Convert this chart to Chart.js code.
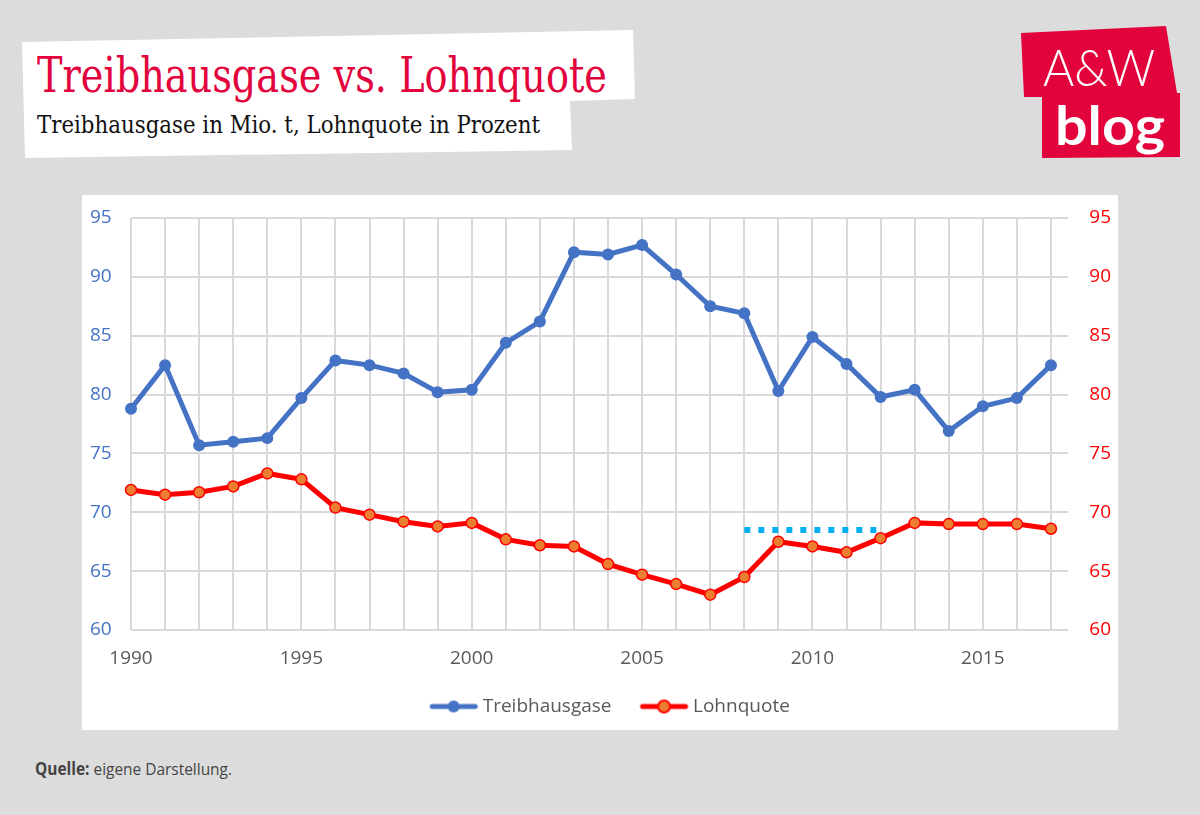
<!DOCTYPE html>
<html>
<head>
<meta charset="utf-8">
<script src="https://cdn.jsdelivr.net/npm/chart.js@4.4.1/dist/chart.umd.min.js"></script>
<style>
  body { margin: 0; background: #dcdcdc; }
  #page { position: relative; width: 1200px; height: 815px; overflow: hidden; background: #dcdcdc; }
  #titlebox { position: absolute; left: 0; top: 0; width: 1200px; height: 815px; background: #fff;
    clip-path: polygon(22px 42px, 633px 30px, 635px 99px, 570px 101px, 572px 150px, 25px 158px); }
  #logo { position: absolute; left: 0; top: 0; width: 1200px; height: 815px; background: #e2033c;
    clip-path: polygon(1021px 33px, 1166px 26px, 1177px 93px, 1180px 93px, 1180px 157px, 1042px 158px, 1042px 97px, 1024px 97px); }
  .txt { position: absolute; white-space: nowrap; line-height: 1; transform-origin: left top; }
  #title { left: 37px; top: 47px; font: 48px "DejaVu Serif", serif; color: #e2033c; }
  #subtitle { left: 37px; top: 111px; font: 24px "DejaVu Serif", serif; color: #111; }
  #aw { left: 1043px; top: 36px; font: 300 51px Lato, sans-serif; color: #fff; }
  #blog { left: 1055px; top: 92px; font: bold 54px Lato, sans-serif; color: #fff; }
  #source { left: 35px; top: 757px; font: 17px "Open Sans", sans-serif; color: #444; }
  #box { position: absolute; left: 82px; top: 195px; width: 1036px; height: 535px; background: #fff; }
</style>
</head>
<body>
<div id="page">
  <div id="titlebox"></div>
  <div class="txt" id="title">Treibhausgase vs. Lohnquote</div>
  <div class="txt" id="subtitle">Treibhausgase in Mio. t, Lohnquote in Prozent</div>
  <div id="logo"></div>
  <div class="txt" id="aw">A&amp;W</div>
  <div class="txt" id="blog">blog</div>
  <div id="box"><canvas id="myChart" width="1036" height="535"></canvas></div>
  <div class="txt" id="source"><b>Quelle:</b> eigene Darstellung.</div>
</div>
<script>
const years = [1990, 1991, 1992, 1993, 1994, 1995, 1996, 1997, 1998, 1999,
  2000, 2001, 2002, 2003, 2004, 2005, 2006, 2007, 2008, 2009,
  2010, 2011, 2012, 2013, 2014, 2015, 2016, 2017]
const treibhausgase = [78.8, 82.5, 75.7, 76.0, 76.3, 79.7, 82.9, 82.5, 81.8, 80.2,
  80.4, 84.4, 86.2, 92.1, 91.9, 92.7, 90.2, 87.5, 86.9, 80.3,
  84.9, 82.6, 79.8, 80.4, 76.9, 79.0, 79.7, 82.5]
const lohnquote = [71.9, 71.5, 71.7, 72.2, 73.3, 72.8, 70.4, 69.8, 69.2, 68.8,
  69.1, 67.7, 67.2, 67.1, 65.6, 64.7, 63.9, 63.0, 64.5, 67.5,
  67.1, 66.6, 67.8, 69.1, 69.0, 69.0, 69.0, 68.6]
// gepunktete Linie 2008-2012
const markerYears = [2008, 2012]
const markerValues = [68.5, 68.5]
const yMin = 60, yMax = 95, yStep = 5

function fitWidth(id, w) {
  const el = document.getElementById(id)
  const r = w / el.getBoundingClientRect().width
  el.style.transform = 'scaleX(' + r + ')'
}
fitWidth('title', 570)
fitWidth('subtitle', 503)
fitWidth('aw', 112)
fitWidth('blog', 110)
fitWidth('source', 197)

// Legendensymbol: Linie mit Punkt
function legendIcon(line, fill, border) {
  const c = document.createElement('canvas')
  c.width = 74
  c.height = 16
  const g = c.getContext('2d')
  g.strokeStyle = line
  g.lineWidth = 5
  g.lineCap = 'round'
  g.beginPath()
  g.moveTo(27, 8)
  g.lineTo(70, 8)
  g.stroke()
  g.beginPath()
  g.arc(48.5, 8, 6, 0, Math.PI * 2)
  g.fillStyle = fill
  g.fill()
  if (border) {
    g.lineWidth = 2
    g.strokeStyle = border
    g.stroke()
  }
  return c
}

const gridColor = '#d9d9d9'
const tickFont = { family: 'Open Sans', size: 19 }
const ctx = document.getElementById('myChart').getContext('2d')

new Chart(ctx, {
  type: 'line',
  data: {
    datasets: [
      {
        label: 'Treibhausgase',
        data: years.map((y, i) => ({ x: y, y: treibhausgase[i] })),
        borderColor: '#4472c4',
        backgroundColor: '#4472c4',
        borderWidth: 5,
        pointRadius: 6,
        pointBackgroundColor: '#4472c4',
        pointBorderWidth: 0,
        yAxisID: 'y',
        clip: false
      },
      {
        label: 'Lohnquote',
        data: years.map((y, i) => ({ x: y, y: lohnquote[i] })),
        borderColor: '#ff0000',
        backgroundColor: '#ed7d31',
        borderWidth: 5,
        pointRadius: 5.5,
        pointBackgroundColor: '#ed7d31',
        pointBorderColor: '#ff0000',
        pointBorderWidth: 1.5,
        yAxisID: 'y1',
        clip: false
      },
      {
        label: 'marker',
        data: markerYears.map((y, i) => ({ x: y, y: markerValues[i] })),
        borderColor: '#00b0f0',
        borderWidth: 6,
        borderDash: [6, 8],
        borderCapStyle: 'butt',
        pointRadius: 0,
        yAxisID: 'y1'
      }
    ]
  },
  options: {
    responsive: false,
    animation: false,
    layout: { padding: { top: 23, left: 8, right: 7, bottom: 4 } },
    plugins: {
      tooltip: { enabled: false },
      legend: {
        position: 'bottom',
        labels: {
          usePointStyle: true,
          pointStyleWidth: 62,
          padding: 10,
          color: '#595959',
          font: tickFont,
          generateLabels: () => [
            { text: 'Treibhausgase', pointStyle: legendIcon('#4472c4', '#4472c4'), datasetIndex: 0, lineWidth: 0, fontColor: '#595959' },
            { text: 'Lohnquote', pointStyle: legendIcon('#ff0000', '#ed7d31', '#ff0000'), datasetIndex: 1, lineWidth: 0, fontColor: '#595959' }
          ]
        }
      }
    },
    scales: {
      x: {
        type: 'linear',
        min: years[0],
        max: years[years.length - 1] + 0.5,
        grid: { color: gridColor, lineWidth: 2, drawTicks: false },
        border: { display: false },
        ticks: {
          stepSize: 1,
          autoSkip: false,
          includeBounds: false,
          maxRotation: 0,
          padding: 17,
          color: '#595959',
          font: tickFont,
          callback: v => (v % 5 === 0 ? String(v) : '')
        },
        afterFit: s => { s.height = 57 }
      },
      y: {
        position: 'left',
        min: yMin,
        max: yMax,
        grid: { color: gridColor, lineWidth: 2, drawTicks: false },
        border: { display: false },
        ticks: { stepSize: yStep, color: '#4472c4', padding: 0, crossAlign: 'far', font: tickFont },
        afterFit: s => { s.width = 41 }
      },
      y1: {
        position: 'right',
        min: yMin,
        max: yMax,
        grid: { display: false },
        border: { display: false },
        ticks: { stepSize: yStep, color: '#ff0000', padding: 0, crossAlign: 'far', font: tickFont },
        afterFit: s => { s.width = 43 }
      }
    }
  }
})
</script>
</body>
</html>
